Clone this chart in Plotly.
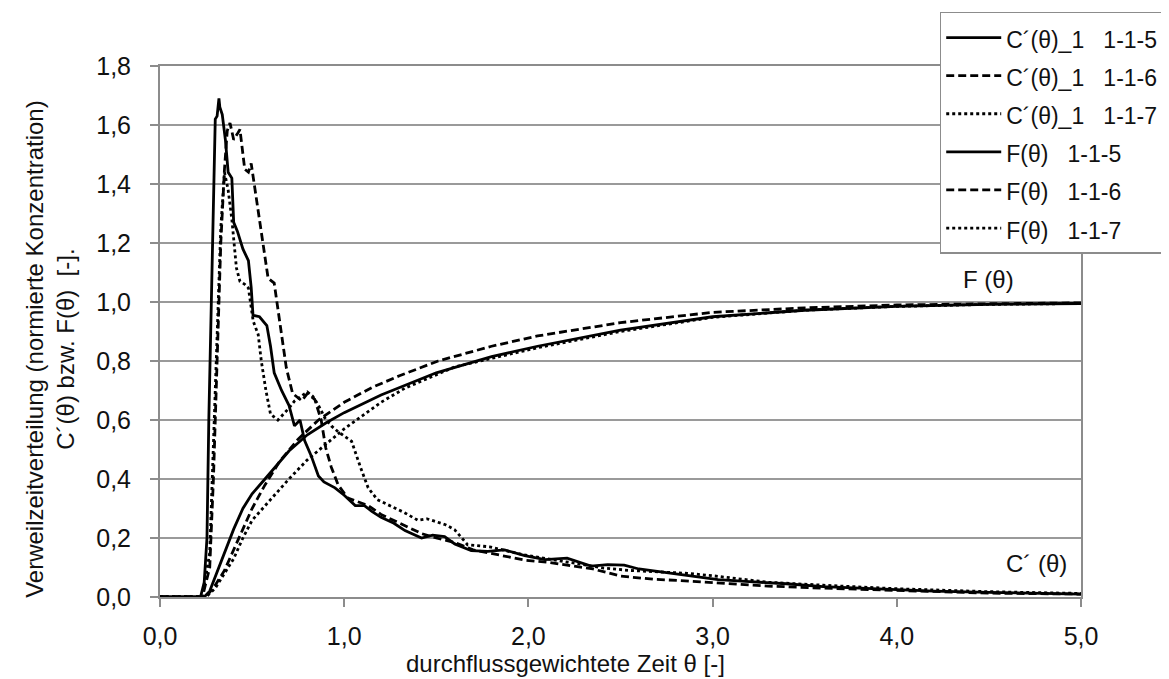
import plotly.graph_objects as go

# ---- data ----
theta_c5 = [0, 0.22, 0.24, 0.255, 0.265, 0.275, 0.29, 0.30, 0.31, 0.32,
            0.325, 0.338, 0.355, 0.37, 0.39, 0.40, 0.42, 0.45, 0.48, 0.495,
            0.505, 0.54, 0.58, 0.60, 0.62, 0.66, 0.70, 0.73, 0.76, 0.785,
            0.82, 0.86, 0.89, 0.95, 1.0, 1.06, 1.11, 1.15, 1.2, 1.27,
            1.33, 1.42, 1.48, 1.545, 1.6, 1.69, 1.78, 1.87, 1.98, 2.09,
            2.21, 2.34, 2.43, 2.52, 2.6, 2.68, 2.87, 3.03, 3.2, 3.4,
            3.6, 3.8, 4.0, 4.2, 4.5, 4.8, 5.0]
c5 = [0, 0, 0.05, 0.2, 0.6, 0.9, 1.3, 1.62, 1.63, 1.69,
      1.66, 1.635, 1.55, 1.44, 1.42, 1.27, 1.24, 1.18, 1.14, 1.05,
      0.955, 0.95, 0.92, 0.85, 0.76, 0.70, 0.65, 0.58, 0.60, 0.53,
      0.48, 0.41, 0.39, 0.37, 0.345, 0.31, 0.31, 0.29, 0.27, 0.25,
      0.225, 0.2, 0.21, 0.205, 0.18, 0.157, 0.155, 0.16, 0.14, 0.127,
      0.132, 0.105, 0.11, 0.108, 0.095, 0.088, 0.071, 0.059, 0.052, 0.045,
      0.035, 0.03, 0.025, 0.02, 0.016, 0.012, 0.01]

theta_c6 = [0, 0.23, 0.27, 0.29, 0.31, 0.33, 0.35, 0.365, 0.38, 0.40,
            0.42, 0.434, 0.46, 0.48, 0.495, 0.515, 0.55, 0.587, 0.62, 0.64,
            0.66, 0.686, 0.72, 0.77, 0.80, 0.84, 0.875, 0.90, 0.93, 0.967,
            1.02, 1.08, 1.13, 1.2, 1.33, 1.42, 1.5, 1.6, 1.7, 1.85,
            1.98, 2.1, 2.23, 2.35, 2.5, 2.68, 2.85, 3.03, 3.3, 3.6,
            4.0, 4.5, 5.0]
c6 = [0, 0, 0.1, 0.4, 0.8, 1.2, 1.45, 1.58, 1.607, 1.55,
      1.57, 1.585, 1.45, 1.44, 1.47, 1.386, 1.25, 1.08, 1.064, 0.98,
      0.9, 0.776, 0.69, 0.665, 0.69, 0.67, 0.60, 0.505, 0.44, 0.38,
      0.335, 0.32, 0.31, 0.28, 0.24, 0.215, 0.2, 0.185, 0.16, 0.14,
      0.125, 0.118, 0.105, 0.095, 0.071, 0.06, 0.055, 0.048, 0.037, 0.03,
      0.022, 0.013, 0.01]

theta_c7 = [0, 0.23, 0.27, 0.29, 0.31, 0.33, 0.35, 0.37, 0.39, 0.415,
            0.434, 0.46, 0.48, 0.506, 0.533, 0.55, 0.575, 0.6, 0.64, 0.70,
            0.73, 0.77, 0.80, 0.83, 0.86, 0.895, 0.93, 0.967, 1.0, 1.04,
            1.09, 1.13, 1.18, 1.25, 1.33, 1.4, 1.45, 1.49, 1.55, 1.6,
            1.67, 1.79, 1.96, 2.1, 2.25, 2.41, 2.55, 2.68, 2.87, 3.03,
            3.3, 3.6, 4.0, 4.5, 5.0]
c7 = [0, 0, 0.15, 0.5, 0.9, 1.25, 1.44, 1.38, 1.28, 1.115,
      1.07, 1.06, 1.047, 0.935, 0.89, 0.80, 0.70, 0.62, 0.60, 0.64,
      0.664, 0.68, 0.695, 0.68, 0.65, 0.607, 0.58, 0.56, 0.545, 0.528,
      0.437, 0.37, 0.33, 0.31, 0.285, 0.26, 0.265, 0.257, 0.245, 0.228,
      0.177, 0.17, 0.145, 0.13, 0.115, 0.098, 0.09, 0.085, 0.08, 0.07,
      0.05, 0.04, 0.028, 0.018, 0.012]

theta_f5 = [0, 0.24, 0.27, 0.30, 0.35, 0.40, 0.45, 0.50, 0.57, 0.65,
            0.70, 0.80, 0.90, 1.0, 1.2, 1.5, 1.8, 2.05, 2.5, 3.0,
            3.5, 4.0, 4.5, 5.0]
f5 = [0, 0, 0.02, 0.07, 0.15, 0.23, 0.30, 0.35, 0.40, 0.46,
      0.495, 0.55, 0.59, 0.625, 0.685, 0.76, 0.815, 0.85, 0.905, 0.95,
      0.972, 0.985, 0.992, 0.995]

theta_f6 = [0, 0.25, 0.30, 0.35, 0.40, 0.45, 0.50, 0.57, 0.65, 0.75,
            0.86, 1.0, 1.15, 1.3, 1.51, 1.8, 2.05, 2.5, 3.0, 3.5,
            4.0, 4.5, 5.0]
f6 = [0, 0, 0.04, 0.09, 0.16, 0.23, 0.30, 0.38, 0.46, 0.535,
      0.60, 0.66, 0.71, 0.75, 0.80, 0.85, 0.885, 0.93, 0.965, 0.98,
      0.99, 0.994, 0.997]

theta_f7 = [0, 0.25, 0.30, 0.35, 0.40, 0.45, 0.5, 0.6, 0.7, 0.8,
            0.875, 1.0, 1.2, 1.33, 1.6, 2.05, 2.5, 3.0, 3.5, 4.0,
            4.5, 5.0]
f7 = [0, 0, 0.03, 0.08, 0.13, 0.20, 0.26, 0.33, 0.40, 0.465,
      0.505, 0.57, 0.66, 0.708, 0.78, 0.845, 0.9, 0.948, 0.972, 0.985,
      0.992, 0.995]

sp = "\u00a0\u00a0\u00a0"
series_names = ["C\u00b4(\u03b8)_1" + sp + "1-1-5", "C\u00b4(\u03b8)_1" + sp + "1-1-6",
                "C\u00b4(\u03b8)_1" + sp + "1-1-7", "F(\u03b8)" + sp + "1-1-5",
                "F(\u03b8)" + sp + "1-1-6", "F(\u03b8)" + sp + "1-1-7"]
x_ticks = [0, 1, 2, 3, 4, 5]

FONT = "Liberation Sans, Arial, sans-serif"
DASH = "8px,4px"
DOT = "3px,3px"

fig = go.Figure()
specs = [(theta_c5, c5, "solid"), (theta_c6, c6, DASH), (theta_c7, c7, DOT),
         (theta_f5, f5, "solid"), (theta_f6, f6, DASH), (theta_f7, f7, DOT)]
for (tx, ty, dash), name in zip(specs, series_names):
    fig.add_trace(go.Scatter(
        x=tx, y=ty, mode="lines",
        name='<span style="font-size:23px">' + name + '</span>',
        line=dict(color="black", width=2.8, dash=dash)))

fig.update_layout(
    width=1169, height=679,
    margin=dict(l=152, r=96, t=58, b=90, autoexpand=False),
    paper_bgcolor="white", plot_bgcolor="white",
    separators=", ",
    font=dict(family=FONT, size=24, color="#111"),
    showlegend=True,
    legend=dict(x=0.8466, y=1.1017, xanchor="left", yanchor="top",
                bgcolor="white", bordercolor="#8c8c8c", borderwidth=1.5,
                font=dict(family=FONT, size=27, color="#111"),
                itemwidth=55, tracegroupgap=0),
    xaxis=dict(range=[0, 5], tickvals=x_ticks, tickformat=".1f",
               showgrid=False, zeroline=False, showline=True,
               linecolor="#8c8c8c", linewidth=2, mirror=True,
               ticks="outside", ticklen=8, tickwidth=1.5, tickcolor="#8c8c8c",
               tickfont=dict(family=FONT, size=25, color="#111"),
               ticklabelstandoff=8),
    yaxis=dict(range=[0, 1.8], dtick=0.2, tick0=0, tickformat=".1f",
               showgrid=True, gridcolor="#9a9a9a", gridwidth=1.5,
               zeroline=False, showline=True, linecolor="#8c8c8c",
               linewidth=2, mirror=True,
               ticks="outside", ticklen=8, tickwidth=1.5, tickcolor="#8c8c8c",
               tickfont=dict(family=FONT, size=25, color="#111"),
               ticklabelstandoff=14),
    annotations=[
        dict(text="F (\u03b8)", x=4.5, y=1.075, xref="x", yref="y",
             showarrow=False, font=dict(family=FONT, size=24, color="#111")),
        dict(text="C\u00b4 (\u03b8)", x=4.76, y=0.115, xref="x", yref="y",
             showarrow=False, font=dict(family=FONT, size=24, color="#111")),
        dict(text="durchflussgewichtete Zeit \u03b8 [-]", x=0.44, y=-0.126,
             xref="paper", yref="paper", xanchor="center", yanchor="middle",
             showarrow=False, font=dict(family=FONT, size=24, color="#111")),
        dict(text="Verweilzeitverteilung (normierte Konzentration)<br>C\u00b4(\u03b8) bzw. F(\u03b8)\u00a0\u00a0[-].",
             x=-0.1196, y=0.467, xref="paper", yref="paper",
             xanchor="center", yanchor="middle", textangle=-90,
             showarrow=False, font=dict(family=FONT, size=24, color="#111")),
    ],
)

fig.write_html("out.html")
